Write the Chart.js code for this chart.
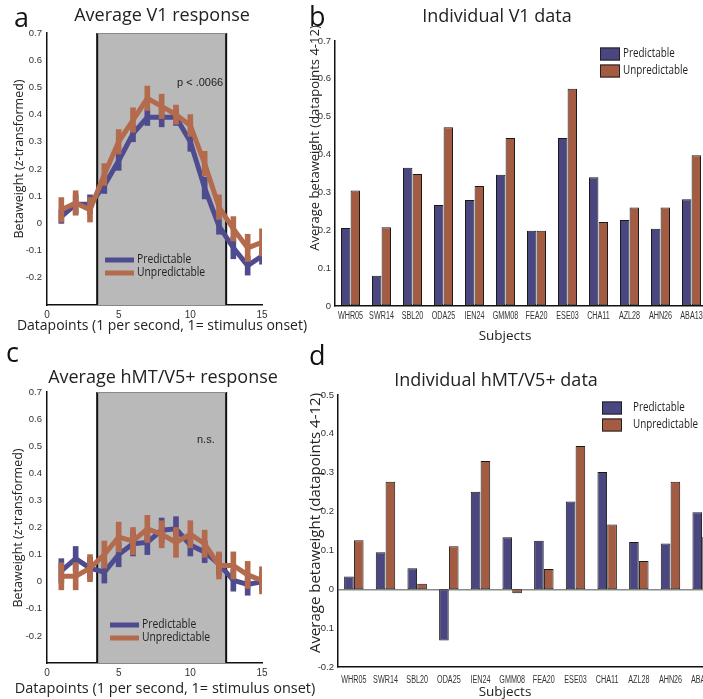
<!DOCTYPE html>
<html lang="en">
<head>
<meta charset="UTF-8">
<title>Predictable vs unpredictable motion</title>
<script src="https://cdn.jsdelivr.net/npm/chart.js"></script>
<style>
    body {
        margin: 0;
        background: #fff;
        width: 703px;
        height: 699px;
        overflow: hidden;
        position: relative;
        font-family: "Open Sans", Arial, sans-serif;
        color: #222;
    }
    canvas { position: absolute; }
    .letter { position: absolute; font-size: 27px; line-height: 1; color: #111; }
    .title { position: absolute; font-size: 18px; line-height: 1; white-space: nowrap; transform: translateX(-50%); }
    .note { position: absolute; font-size: 11px; line-height: 1; font-family: "Liberation Sans", Arial, sans-serif; }
    .xt { position: absolute; white-space: nowrap; line-height: 1; transform: translate(-50%, -50%); }
    .yt { position: absolute; white-space: nowrap; line-height: 1; transform: translate(-50%, -50%) rotate(-90deg); }
</style>
</head>
<body>

<canvas id="chartA" width="300" height="345" style="left:0;top:0"></canvas>
<canvas id="chartB" width="420" height="345" style="left:300px;top:0"></canvas>
<canvas id="chartC" width="300" height="354" style="left:0;top:345px"></canvas>
<canvas id="chartD" width="420" height="354" style="left:300px;top:345px"></canvas>

<div class="letter" style="left:14px;top:3px">a</div>
<div class="title" style="left:162px;top:5px">Average V1 response</div>
<div class="letter" style="left:309px;top:2px">b</div>
<div class="title" style="left:497px;top:6px">Individual V1 data</div>
<div class="letter" style="left:6px;top:338px">c</div>
<div class="title" style="left:163px;top:367px">Average hMT/V5+ response</div>
<div class="letter" style="left:309px;top:341px">d</div>
<div class="title" style="left:496px;top:370px">Individual hMT/V5+ data</div>
<div class="note" style="left:177px;top:77px">p &lt; .0066</div>
<div class="note" style="left:197px;top:434px">n.s.</div>

<div class="yt" style="left:19px;top:159px;font-size:12.5px">Betaweight (z-transformed)</div>
<div class="xt" style="left:162px;top:325px;font-size:14px">Datapoints (1 per second, 1= stimulus onset)</div>
<div class="yt" style="left:18px;top:528px;font-size:12.5px">Betaweight (z-transformed)</div>
<div class="xt" style="left:165px;top:688px;font-size:14.5px">Datapoints (1 per second, 1= stimulus onset)</div>
<div class="yt" style="left:314px;top:138px;font-size:13px">Average betaweight (datapoints 4-12)</div>
<div class="xt" style="left:505px;top:336px;font-size:13.5px">Subjects</div>
<div class="yt" style="left:314px;top:523px;font-size:15px">Average betaweight (datapoints 4-12)</div>
<div class="xt" style="left:505px;top:692px;font-size:13.5px">Subjects</div>

<script>
// time course data (panels a, c)
const timepoints = [1, 2, 3, 4, 5, 6, 7, 8, 9, 10, 11, 12, 13, 14, 15];
const v1Pred     = [0.025, 0.07, 0.07, 0.14, 0.23, 0.33, 0.39, 0.39, 0.39, 0.30, 0.13, -0.01, -0.09, -0.155, -0.12];
const v1Unpred   = [0.05, 0.075, 0.05, 0.18, 0.30, 0.38, 0.46, 0.43, 0.40, 0.36, 0.22, 0.06, -0.02, -0.09, -0.07];
const v1PredErr  = [0.025, 0.035, 0.035, 0.03, 0.035, 0.03, 0.03, 0.035, 0.03, 0.035, 0.04, 0.03, 0.04, 0.035, 0.03];
const v1UnpredErr = [0.045, 0.045, 0.045, 0.04, 0.045, 0.045, 0.045, 0.045, 0.035, 0.04, 0.045, 0.045, 0.045, 0.05, 0.05];
const mtPred     = [0.04, 0.085, 0.05, 0.035, 0.10, 0.14, 0.145, 0.19, 0.195, 0.135, 0.11, 0.065, 0.005, -0.01, 0.0];
const mtUnpred   = [0.02, 0.02, 0.05, 0.10, 0.165, 0.15, 0.195, 0.175, 0.145, 0.175, 0.14, 0.06, 0.06, 0.025, 0.005];
const mtPredErr  = [0.045, 0.045, 0.04, 0.04, 0.045, 0.045, 0.045, 0.045, 0.045, 0.04, 0.04, 0.04, 0.04, 0.04, 0.035];
const mtUnpredErr = [0.05, 0.05, 0.05, 0.05, 0.055, 0.05, 0.05, 0.05, 0.055, 0.05, 0.05, 0.05, 0.05, 0.05, 0.05];
const stimStart = 3.5;
const stimEnd = 12.5;

// individual subject data (panels b, d)
const subjects = ["WHR05", "SWR14", "SBL20", "ODA25", "IEN24", "GMM08", "FEA20", "ESE03", "CHA11", "AZL28", "AHN26", "ABA13"];
const v1SubjPred   = [0.206, 0.080, 0.365, 0.267, 0.280, 0.347, 0.199, 0.444, 0.340, 0.227, 0.204, 0.282];
const v1SubjUnpred = [0.305, 0.208, 0.349, 0.472, 0.317, 0.444, 0.199, 0.574, 0.222, 0.260, 0.260, 0.398];
const mtSubjPred   = [0.033, 0.095, 0.054, -0.132, 0.251, 0.134, 0.125, 0.226, 0.302, 0.122, 0.118, 0.198];
const mtSubjUnpred = [0.126, 0.277, 0.014, 0.111, 0.330, -0.010, 0.052, 0.369, 0.167, 0.073, 0.277, 0.135];

const BLUE = "#4e4b8f";
const ORANGE = "#b46b4d";
const BAR_BLUE = "#4a467f";
const BAR_ORANGE = "#a35b42";
const TICKFONT = "'Liberation Sans', Arial, sans-serif";

Chart.defaults.font.family = "'Open Sans', Arial, sans-serif";
Chart.defaults.color = "#222";

function fmt(v) {
    const r = Math.round(v * 10) / 10;
    return r === 0 ? "0" : r.toFixed(1);
}

// gray stimulus window behind the time courses
const shadePlugin = {
    id: "shade",
    beforeDatasetsDraw(chart, args, opts) {
        if (!opts || opts.from === undefined) return;
        const { ctx, scales: { x, y } } = chart;
        const l = x.getPixelForValue(opts.from), r = x.getPixelForValue(opts.to);
        const t = y.getPixelForValue(opts.top), b = y.bottom;
        ctx.save();
        ctx.fillStyle = "#b9b9b9";
        ctx.fillRect(l, t, r - l, b - t);
        ctx.strokeStyle = "#111";
        ctx.lineWidth = 2;
        ctx.beginPath();
        ctx.moveTo(l, b); ctx.lineTo(l, t); ctx.moveTo(r, t); ctx.lineTo(r, b);
        ctx.stroke();
        ctx.strokeStyle = "#888";
        ctx.lineWidth = 1;
        ctx.beginPath();
        ctx.moveTo(l, t + 0.5); ctx.lineTo(r, t + 0.5);
        ctx.stroke();
        ctx.restore();
    }
};

// matlab-like legend drawn where the figure has it
const boxLegend = {
    id: "boxLegend",
    afterDraw(chart, args, opts) {
        if (!opts || !opts.items) return;
        const ctx = chart.ctx;
        ctx.save();
        ctx.font = opts.font;
        ctx.textBaseline = "middle";
        opts.items.forEach((it, i) => {
            const yy = opts.y + i * opts.gap;
            if (opts.kind === "line") {
                ctx.strokeStyle = it.color;
                ctx.lineWidth = 5;
                ctx.beginPath();
                ctx.moveTo(opts.x, yy);
                ctx.lineTo(opts.x + opts.w, yy);
                ctx.stroke();
            } else {
                ctx.fillStyle = it.color;
                ctx.fillRect(opts.x, yy - 6.5, opts.w, 13);
                ctx.strokeStyle = "#222";
                ctx.lineWidth = 1;
                ctx.strokeRect(opts.x + 0.5, yy - 6, opts.w - 1, 12);
            }
            ctx.fillStyle = "#222";
            ctx.save();
            ctx.translate(opts.x + opts.w + opts.textGap, yy);
            ctx.scale(opts.squeeze, 1);
            ctx.fillText(it.label, 0, 0);
            ctx.restore();
        });
        ctx.restore();
    }
};

// condensed subject labels under the bars
const narrowLabels = {
    id: "narrowLabels",
    afterDraw(chart, args, opts) {
        if (!opts || opts.gap === undefined) return;
        const x = chart.scales.x, ctx = chart.ctx;
        ctx.save();
        ctx.font = "10px " + TICKFONT;
        ctx.fillStyle = "#333";
        ctx.textAlign = "center";
        ctx.textBaseline = "middle";
        chart.data.labels.forEach((lab, i) => {
            ctx.save();
            ctx.translate(x.getPixelForTick(i), x.top + opts.gap);
            ctx.scale(0.72, 1);
            ctx.fillText(lab, 0, 0);
            ctx.restore();
        });
        ctx.restore();
    }
};

function errData(vals, errs) {
    return timepoints.map((t, i) => ({ x: t, y: [vals[i] - errs[i], vals[i] + errs[i]] }));
}

function lineData(vals) {
    return timepoints.map((t, i) => ({ x: t, y: vals[i] }));
}

function timeCourse(id, pred, predErr, unpred, unpredErr, lay) {
    new Chart(document.getElementById(id), {
        type: "line",
        data: {
            datasets: [
                { type: "bar", data: errData(pred, predErr), backgroundColor: BLUE, barThickness: 5, grouped: false, order: 4 },
                { type: "line", data: lineData(pred), borderColor: BLUE, borderWidth: 5, pointRadius: 0, tension: 0, order: 3 },
                { type: "bar", data: errData(unpred, unpredErr), backgroundColor: ORANGE, barThickness: 5, grouped: false, order: 2 },
                { type: "line", data: lineData(unpred), borderColor: ORANGE, borderWidth: 5, pointRadius: 0, tension: 0, order: 1 }
            ]
        },
        options: {
            responsive: false,
            animation: false,
            layout: { padding: { top: lay.top, right: lay.right, left: 0, bottom: 0 } },
            plugins: {
                legend: { display: false },
                tooltip: { enabled: false },
                shade: { from: stimStart, to: stimEnd, top: 0.7 },
                boxLegend: {
                    kind: "line", x: lay.legX, y: lay.legY, w: 29, gap: 13, textGap: 3, squeeze: 0.86,
                    font: "12px 'Open Sans', Arial, sans-serif",
                    items: [{ label: "Predictable", color: BLUE }, { label: "Unpredictable", color: ORANGE }]
                }
            },
            scales: {
                x: {
                    type: "linear", min: 0, max: 15, offset: false,
                    ticks: { stepSize: 5, font: { size: 10, family: TICKFONT }, color: "#333", padding: 4 },
                    grid: { display: false, drawTicks: false },
                    border: { color: "#111", width: 1.5 },
                    afterFit: s => { s.height = lay.xh; }
                },
                y: {
                    min: -0.3, max: 0.7,
                    ticks: {
                        stepSize: 0.1, font: { size: 9.5, family: TICKFONT }, color: "#333", padding: 5,
                        callback: v => (Math.round(v * 10) === -3 ? "" : fmt(v))
                    },
                    grid: { display: false, drawTicks: false },
                    border: { color: "#111", width: 1.5 },
                    afterFit: s => { s.width = 47; }
                }
            }
        },
        plugins: [shadePlugin, boxLegend]
    });
}

function subjectBars(id, pred, unpred, lay) {
    new Chart(document.getElementById(id), {
        type: "bar",
        data: {
            labels: subjects,
            datasets: [
                { label: "Predictable", data: pred, backgroundColor: BAR_BLUE, borderColor: "#1a1a1a", borderWidth: 1, borderSkipped: false },
                { label: "Unpredictable", data: unpred, backgroundColor: BAR_ORANGE, borderColor: "#1a1a1a", borderWidth: 1, borderSkipped: false }
            ]
        },
        options: {
            responsive: false,
            animation: false,
            layout: { padding: { top: lay.top, right: lay.right, left: 0, bottom: 0 } },
            datasets: { bar: { categoryPercentage: 0.62, barPercentage: 0.98 } },
            plugins: {
                legend: { display: false },
                tooltip: { enabled: false },
                narrowLabels: { gap: lay.labelGap },
                boxLegend: {
                    kind: "box", x: lay.legX, y: lay.legY, w: 20, gap: 17, textGap: lay.legTextGap, squeeze: 0.82,
                    font: "12px 'Open Sans', Arial, sans-serif",
                    items: [{ label: "Predictable", color: BAR_BLUE }, { label: "Unpredictable", color: BAR_ORANGE }]
                }
            },
            scales: {
                x: {
                    ticks: { display: false },
                    grid: { display: false },
                    border: { color: "#111", width: 1.5 },
                    afterFit: s => { s.height = lay.xh; }
                },
                y: {
                    min: lay.min, max: lay.max,
                    ticks: { stepSize: 0.1, font: { size: 9.5, family: TICKFONT }, color: "#333", padding: 4, callback: v => fmt(v) },
                    grid: {
                        drawTicks: false,
                        color: c => (c.tick && Math.round(c.tick.value * 10) === 0 && lay.min < 0 ? "#8a8a8a" : "rgba(0,0,0,0)"),
                        lineWidth: 1.5
                    },
                    border: { color: "#111", width: 1.5 },
                    afterFit: s => { s.width = lay.yw; }
                }
            }
        },
        plugins: [narrowLabels, boxLegend]
    });
}

timeCourse("chartA", v1Pred, v1PredErr, v1Unpred, v1UnpredErr,
    { top: 33, right: 38, xh: 40, legX: 105, legY: 260 });
timeCourse("chartC", mtPred, mtPredErr, mtUnpred, mtUnpredErr,
    { top: 47, right: 38, xh: 36, legX: 110, legY: 280 });
subjectBars("chartB", v1SubjPred, v1SubjUnpred,
    { top: 41, right: 13, xh: 39, yw: 35, min: 0, max: 0.7, legX: 300, legY: 54, legTextGap: 3, labelGap: 10 });
subjectBars("chartD", mtSubjPred, mtSubjUnpred,
    { top: 50, right: 2, xh: 32, yw: 38, min: -0.2, max: 0.5, legX: 302, legY: 63, legTextGap: 11, labelGap: 13 });
</script>
</body>
</html>
